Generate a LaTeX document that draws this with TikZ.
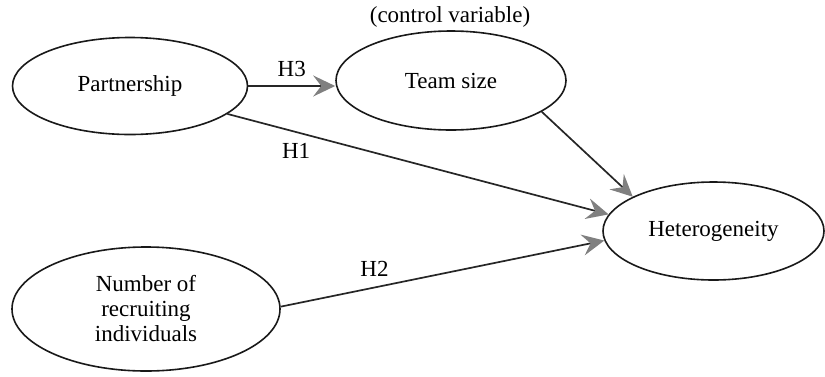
\documentclass[tikz,border=0pt]{standalone}
\usepackage{fontspec}
\setmainfont{Liberation Serif}
\usetikzlibrary{shapes.geometric,arrows.meta}
\tikzset{
  var/.style={ellipse, draw=black!90, line width=0.8pt, inner sep=0pt, font=\fontsize{11.5}{13}\selectfont, align=center},
  arr/.style={draw=black!85, line width=0.85pt, -{Stealth[length=11pt, width=10.5pt, inset=4pt, color=black!50, fill=black!50]}},
  lbl/.style={font=\fontsize{11.5}{13}\selectfont, inner sep=0pt}
}
\begin{document}
\begin{tikzpicture}[x=0.5pt, y=-0.5pt]
\useasboundingbox (0,0) rectangle (825,376);
\node[var, minimum width=117.5pt, minimum height=48.5pt] (p) at (130,86) {Partnership};
\node[var, minimum width=115pt, minimum height=49.5pt] (t) at (451,80.5) {Team size};
\node[var, minimum width=110.5pt, minimum height=49pt] (h) at (713.5,231) {Heterogeneity};
\node[var, minimum width=134pt, minimum height=62pt] (n) at (146,309) {Number of\\[-0.5pt] recruiting\\[-0.5pt] individuals};
\node[lbl] (cv) at (450,17) {(control variable)};
\draw[arr] (p.east) -- (p.east -| t.west) node[lbl, midway, above=4pt] {H3};
\draw[arr] (p.-16.3) -- (h.171.3) node[lbl, pos=0.18, below=5pt] {H1};
\draw[arr] (t.-19.7) -- (h.157.4);
\draw[arr] (n.1.5) -- (h.-175) node[lbl, pos=0.29, above=5pt] {H2};
\end{tikzpicture}
\end{document}
